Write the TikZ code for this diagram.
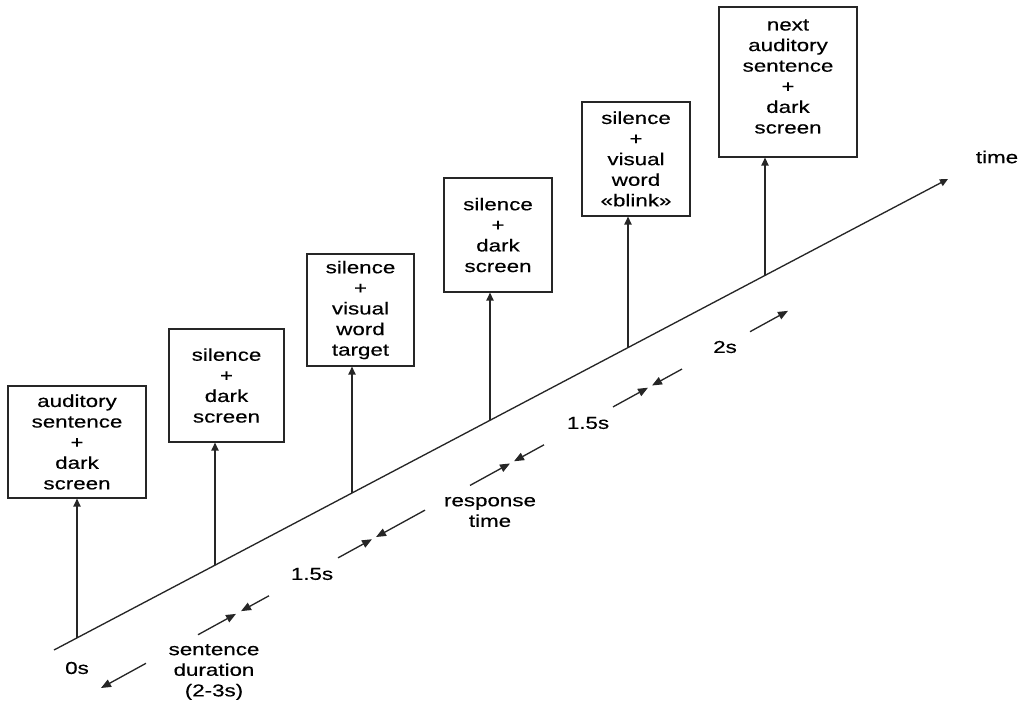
\documentclass[tikz,border=0pt]{standalone}
\usepackage{fontspec}
\setmainfont[FakeStretch=1.3,FakeBold=0.4]{Liberation Sans}
\usetikzlibrary{arrows.meta}
\begin{document}
\begin{tikzpicture}[x=0.75pt,y=-0.75pt,
  ln/.style={draw=black!85,line width=1pt},
  upar/.style={ln,-{Triangle[length=6pt,width=5.5pt]}},
  dimar/.style={ln,-{Triangle[length=7.5pt,width=6pt]}},
  box/.style={draw=black!85,line width=0.9pt,fill=white,inner sep=0pt,align=center,
    font=\fontsize{12.9}{15.45}\selectfont},
  lbl/.style={inner sep=0pt,align=center,font=\fontsize{12.9}{15.45}\selectfont}]
\useasboundingbox (0,0) rectangle (1024,710);
% main time axis
\coordinate (ax0) at (54,650);
\coordinate (ax1) at (948,179);
\draw[upar] (ax0) -- (ax1);
% boxes
\node[box,minimum width=103.5pt,minimum height=84pt] (b1) at (77,442) {auditory\\sentence\\+\\dark\\screen};
\node[box,minimum width=86.25pt,minimum height=84.75pt] (b2) at (226.5,385.5) {silence\\+\\dark\\screen};
\node[box,minimum width=80.25pt,minimum height=84pt] (b3) at (360.5,310) {silence\\+\\visual\\word\\target};
\node[box,minimum width=81pt,minimum height=85.5pt] (b4) at (498,235) {silence\\+\\dark\\screen};
\node[box,minimum width=81pt,minimum height=85.5pt] (b5) at (636,159) {silence\\+\\visual\\word\\«blink»};
\node[box,minimum width=103.5pt,minimum height=112.5pt] (b6) at (788,82) {};
\node[lbl] (b6t) at (788,76.5) {next\\auditory\\sentence\\+\\dark\\screen};
% points on the axis
\foreach \n/\x in {1/77,2/215,3/352,4/490,5/628,6/765}
  \coordinate (f\n) at (\x,{650-0.5268*(\x-54)});
\foreach \n in {1,...,6}
  \draw[upar] (f\n) -- (f\n |- b\n.south);
% dimension line points
\foreach \n/\x in {a/101,b/146,c/198,d/236,e/241,f/269,g/338,h/372,i/376,j/425,k/470,l/510,m/514,n/544,o/613,p/648,q/652,r/682,s/750,t/788}
  \coordinate (d\n) at (\x,{688-0.549*(\x-101)});
\draw[dimar] (db) -- (da);
\draw[dimar] (dc) -- (dd);
\draw[dimar] (df) -- (de);
\draw[dimar] (dg) -- (dh);
\draw[dimar] (dj) -- (di);
\draw[dimar] (dk) -- (dl);
\draw[dimar] (dn) -- (dm);
\draw[dimar] (do) -- (dp);
\draw[dimar] (dr) -- (dq);
\draw[dimar] (ds) -- (dt);
% labels
\node[lbl] (time) at (997,157) {time};
\node[lbl] (zero) at (77,668) {0s};
\node[lbl] (sent) at (214,672) {sentence\\duration\\(2-3s)};
\node[lbl] (t1) at (312,574) {1.5s};
\node[lbl] (resp) at (490,512) {response\\time};
\node[lbl] (t2) at (588,423) {1.5s};
\node[lbl] (t3) at (725,347) {2s};
\end{tikzpicture}
\end{document}
